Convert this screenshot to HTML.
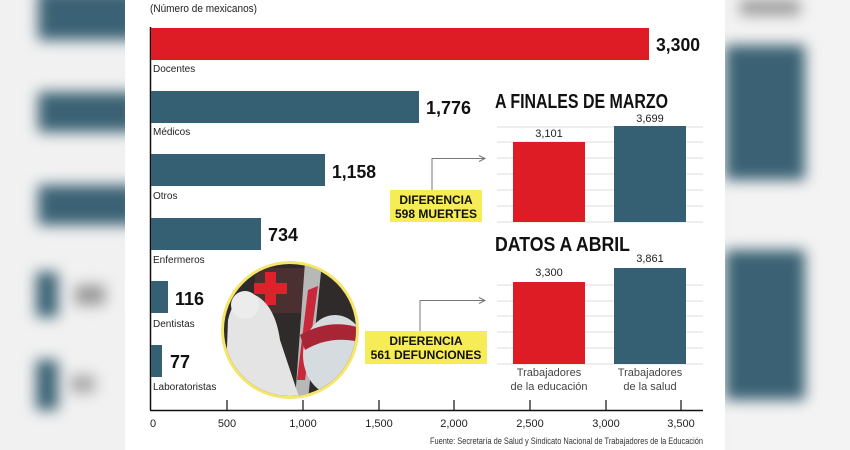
<!DOCTYPE html>
<html><head><meta charset="utf-8"><style>
html,body{margin:0;padding:0;width:850px;height:450px;overflow:hidden;background:#f2f2f2}
.blur{position:absolute;filter:blur(7px)}
svg{position:absolute;left:0;top:0}
text{font-family:"Liberation Sans Narrow","Liberation Sans",sans-serif}
</style></head><body>
<div class="blur" style="left:0;top:0;width:125px;height:450px;background:#f1f1f1;filter:none"></div>
<div class="blur" style="left:38px;top:-10px;width:100px;height:50px;background:#3b6274"></div>
<div class="blur" style="left:38px;top:92px;width:100px;height:40px;background:#3b6274"></div>
<div class="blur" style="left:38px;top:185px;width:100px;height:40px;background:#3b6274"></div>
<div class="blur" style="left:36px;top:272px;width:22px;height:45px;background:#3b6274"></div>
<div class="blur" style="left:75px;top:285px;width:30px;height:20px;background:#999"></div>
<div class="blur" style="left:36px;top:360px;width:22px;height:50px;background:#3b6274"></div>
<div class="blur" style="left:70px;top:375px;width:25px;height:18px;background:#aaa"></div>
<div class="blur" style="left:730px;top:0;width:120px;height:450px;background:#f3f3f3;filter:none"></div>
<div class="blur" style="left:725px;top:45px;width:80px;height:135px;background:#3b6274"></div>
<div class="blur" style="left:725px;top:250px;width:80px;height:150px;background:#3b6274"></div>
<div class="blur" style="left:740px;top:0;width:60px;height:15px;background:#999"></div>
<svg width="850" height="450" viewBox="0 0 850 450">
<rect x="125" y="0" width="600" height="450" fill="#fff"/>
<text x="150" y="12" font-size="11" fill="#222" textLength="107" lengthAdjust="spacingAndGlyphs">(Número de mexicanos)</text>
<line x1="150.5" y1="27" x2="150.5" y2="410" stroke="#111" stroke-width="1.5"/>
<line x1="150" y1="410.5" x2="703" y2="410.5" stroke="#111" stroke-width="1.5"/>
<g stroke="#111" stroke-width="1.2">
<line x1="227" y1="400" x2="227" y2="410"/><line x1="303" y1="400" x2="303" y2="410"/>
<line x1="379" y1="400" x2="379" y2="410"/><line x1="454" y1="400" x2="454" y2="410"/>
<line x1="530" y1="400" x2="530" y2="410"/><line x1="606" y1="400" x2="606" y2="410"/>
<line x1="681" y1="400" x2="681" y2="410"/></g>
<g font-size="11" fill="#222" text-anchor="middle">
<text x="153" y="427">0</text><text x="227" y="427">500</text><text x="303" y="427">1,000</text>
<text x="379" y="427">1,500</text><text x="454" y="427">2,000</text><text x="530" y="427">2,500</text>
<text x="606" y="427">3,000</text><text x="681" y="427">3,500</text></g>
<rect x="151" y="28" width="498" height="32" fill="#dd1c25"/>
<rect x="151" y="91" width="268" height="32" fill="#355f72"/>
<rect x="151" y="154" width="174" height="32" fill="#355f72"/>
<rect x="151" y="218" width="110" height="32" fill="#355f72"/>
<rect x="151" y="281" width="17" height="32" fill="#355f72"/>
<rect x="151" y="345" width="11" height="32" fill="#355f72"/>
<g font-size="10" fill="#222">
<text x="153" y="72">Docentes</text><text x="153" y="135">Médicos</text>
<text x="153" y="199">Otros</text><text x="153" y="263">Enfermeros</text>
<text x="153" y="327">Dentistas</text><text x="153" y="390">Laboratoristas</text></g>
<g font-size="18" font-weight="bold" fill="#111">
<text x="656" y="51" textLength="44" lengthAdjust="spacingAndGlyphs">3,300</text>
<text x="426" y="114" textLength="45" lengthAdjust="spacingAndGlyphs">1,776</text>
<text x="332" y="178" textLength="44" lengthAdjust="spacingAndGlyphs">1,158</text>
<text x="268" y="241">734</text>
<text x="175" y="305">116</text><text x="170" y="368">77</text></g>
<defs><clipPath id="c"><circle cx="290" cy="330" r="66"/></clipPath></defs>
<circle cx="290" cy="330" r="69" fill="#f5e66a"/>
<g clip-path="url(#c)">
<rect x="220" y="260" width="140" height="140" fill="#2f2b2b"/>
<rect x="255" y="268" width="50" height="45" fill="#4a3030"/>
<rect x="265" y="272" width="11" height="33" fill="#e0202a"/><rect x="254" y="283" width="33" height="11" fill="#e0202a"/>
<path d="M305 262 L322 262 L308 400 L295 400Z" fill="#b8b8b8"/>
<path d="M308 290 L318 286 L305 380 L297 380Z" fill="#c9283a"/>
<path d="M225 400 L228 320 Q235 290 255 295 Q275 305 280 340 L300 400Z" fill="#e4e4e4"/>
<circle cx="245" cy="305" r="14" fill="#ececec"/>
<ellipse cx="335" cy="355" rx="32" ry="40" fill="#d6dbe0"/>
<path d="M300 335 Q330 318 360 328 L360 342 Q330 335 305 350Z" fill="#a82535"/>
</g>
<text x="495" y="108" font-size="20" font-weight="bold" fill="#111" textLength="173" lengthAdjust="spacingAndGlyphs">A FINALES DE MARZO</text>
<text x="495" y="251" font-size="20" font-weight="bold" fill="#111" textLength="135" lengthAdjust="spacingAndGlyphs">DATOS A ABRIL</text>
<g stroke="#ddd" stroke-width="1">
<line x1="497" y1="127" x2="703" y2="127"/><line x1="497" y1="142" x2="703" y2="142"/>
<line x1="497" y1="158" x2="703" y2="158"/><line x1="497" y1="174" x2="703" y2="174"/>
<line x1="497" y1="190" x2="703" y2="190"/><line x1="497" y1="206" x2="703" y2="206"/>
<line x1="497" y1="222" x2="703" y2="222"/>
<line x1="497" y1="285" x2="703" y2="285"/><line x1="497" y1="301" x2="703" y2="301"/>
<line x1="497" y1="316" x2="703" y2="316"/><line x1="497" y1="332" x2="703" y2="332"/>
<line x1="497" y1="348" x2="703" y2="348"/><line x1="497" y1="364" x2="703" y2="364"/></g>
<rect x="513" y="142" width="72" height="80" fill="#dd1c25"/>
<rect x="614" y="126" width="72" height="96" fill="#355f72"/>
<rect x="513" y="282" width="72" height="82" fill="#dd1c25"/>
<rect x="614" y="268" width="72" height="96" fill="#355f72"/>
<g font-size="11" fill="#222" text-anchor="middle">
<text x="549" y="137">3,101</text><text x="650" y="122">3,699</text>
<text x="549" y="276">3,300</text><text x="650" y="262">3,861</text>
<text x="549" y="376" fill="#444">Trabajadores</text><text x="549" y="390" fill="#444">de la educación</text>
<text x="650" y="376" fill="#444">Trabajadores</text><text x="650" y="390" fill="#444">de la salud</text></g>
<g stroke="#777" stroke-width="1" fill="none">
<path d="M432 190 V158.5 H484 M479 155.5 L485 158.5 L479 161.5"/>
<path d="M420 331 V300.5 H484 M479 297.5 L485 300.5 L479 303.5"/></g>
<rect x="390" y="190" width="92" height="32" fill="#f6ec55"/>
<rect x="365" y="331" width="122" height="33" fill="#f6ec55"/>
<g font-size="12" font-weight="bold" fill="#111" text-anchor="middle">
<text x="436" y="204">DIFERENCIA</text><text x="436" y="218">598 MUERTES</text>
<text x="426" y="345">DIFERENCIA</text><text x="426" y="359">561 DEFUNCIONES</text></g>
<text x="703" y="444" font-size="9" fill="#333" text-anchor="end" textLength="273" lengthAdjust="spacingAndGlyphs">Fuente: Secretaría de Salud y Sindicato Nacional de Trabajadores de la Educación</text>
</svg>
</body></html>
